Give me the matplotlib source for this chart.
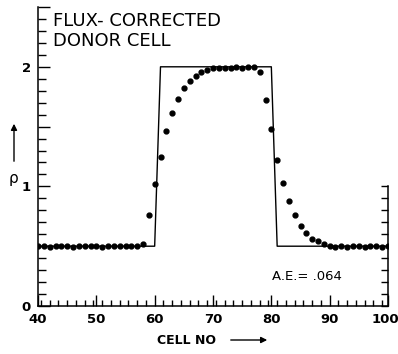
import numpy as np
import matplotlib
matplotlib.use("Agg")
import matplotlib.pyplot as plt
from matplotlib.ticker import MultipleLocator, FixedLocator
from matplotlib.transforms import ScaledTranslation

# ---- data ----
cells = list(range(40, 101))
rho_numeric = [
    0.50, 0.50, 0.49, 0.50, 0.50, 0.50, 0.49, 0.50, 0.50, 0.50,   # 40-49
    0.50, 0.49, 0.50, 0.50, 0.50, 0.50, 0.50, 0.50, 0.52, 0.76,   # 50-59
    1.02, 1.25, 1.46, 1.61, 1.73, 1.82, 1.88, 1.92, 1.96, 1.97,   # 60-69
    1.99, 1.99, 1.99, 1.99, 2.00, 1.99, 2.00, 2.00, 1.96, 1.72,   # 70-79
    1.48, 1.22, 1.03, 0.88, 0.76, 0.67, 0.61, 0.56, 0.54, 0.52,   # 80-89
    0.50, 0.49, 0.50, 0.49, 0.50, 0.50, 0.49, 0.50, 0.50, 0.49,   # 90-99
    0.50,                                                         # 100
]
exact_x = [40, 60, 61, 80, 81, 100]
exact_y = [0.5, 0.5, 2.0, 2.0, 0.5, 0.5]
xtick_labels = ["40", "50", "60", "70", "80", "90", "100"]
ytick_labels = ["0", "1", "2"]
title_lines = ["FLUX- CORRECTED", "DONOR CELL"]
ae_text = "A.E.= .064"

W, H = 398, 354
fig = plt.figure(figsize=(W / 100, H / 100), dpi=100)
ax = fig.add_axes([38 / W, 48 / H, 350 / W, 299 / H])

ax.plot(exact_x, exact_y, color="black", lw=1.0, zorder=2)
ax.plot(cells, rho_numeric, "o", color="black", ms=3.5, mec="black", zorder=3)

ax.set_xlim(40, 100)
ax.set_ylim(0, 2.5)

for s in ["top", "right"]:
    ax.spines[s].set_visible(False)
for s in ["left", "bottom"]:
    ax.spines[s].set_linewidth(1.1)

# x ticks
ax.xaxis.set_minor_locator(MultipleLocator(1.5))
ax.tick_params(axis="x", which="major", direction="in", length=8, width=1.0, pad=5)
ax.tick_params(axis="x", which="minor", direction="in", length=4.5, width=1.0)
ax.set_xticks([40, 50, 60, 70, 80, 90, 100])
ax.set_xticklabels(xtick_labels, fontsize=9.5, fontweight="bold")

# y ticks
ax.yaxis.set_minor_locator(MultipleLocator(0.1))
ax.tick_params(axis="y", which="major", direction="in", length=8.5, width=1.0, pad=5)
ax.tick_params(axis="y", which="minor", direction="in", length=5.5, width=1.0)
ax.yaxis.set_major_locator(FixedLocator([0, 0.5, 1.0, 1.5, 2.0, 2.5]))
ax.set_yticklabels(["0", "", "1", "", "2", ""], fontsize=9.5, fontweight="bold")

# right short axis (0 to 1)
ax2 = ax.twinx()
ax2.set_ylim(0, 2.5)
for s in ["top", "left", "bottom"]:
    ax2.spines[s].set_visible(False)
ax2.spines["right"].set_bounds(0, 1)
ax2.spines["right"].set_linewidth(1.1)
ax2.set_yticks(np.arange(0, 1.01, 0.1))
ax2.set_yticklabels([])
ax2.tick_params(axis="y", direction="in", length=5, width=1.0)

# nudge the last x label so it stays inside the canvas
fig.canvas.draw()
last = ax.xaxis.get_major_ticks()[-1].label1
last.set_transform(last.get_transform() + ScaledTranslation(-3 / 100, 0, fig.dpi_scale_trans))

# texts
fig.text(53 / W, 1 - 21 / H, title_lines[0], fontsize=13, ha="left", va="center")
fig.text(53 / W, 1 - 41 / H, title_lines[1], fontsize=13, ha="left", va="center")
fig.text(272 / W, 1 - 277 / H, ae_text, fontsize=9.5, ha="left", va="center")
fig.text(157 / W, 1 - 340 / H, "CELL NO", fontsize=9, fontweight="bold", ha="left", va="center")
fig.add_artist(matplotlib.patches.FancyArrowPatch(
    (228 / W, 1 - 340 / H), (270 / W, 1 - 340 / H), transform=fig.transFigure,
    arrowstyle="-|>", mutation_scale=9, color="black", lw=1.0))
fig.text(13 / W, 1 - 178 / H, "ρ", fontsize=11, ha="center", va="center")
fig.add_artist(matplotlib.patches.FancyArrowPatch(
    (14 / W, 1 - 164 / H), (14 / W, 1 - 121 / H), transform=fig.transFigure,
    arrowstyle="-|>", mutation_scale=9, color="black", lw=1.0))

fig.savefig("out.png", dpi=100)
